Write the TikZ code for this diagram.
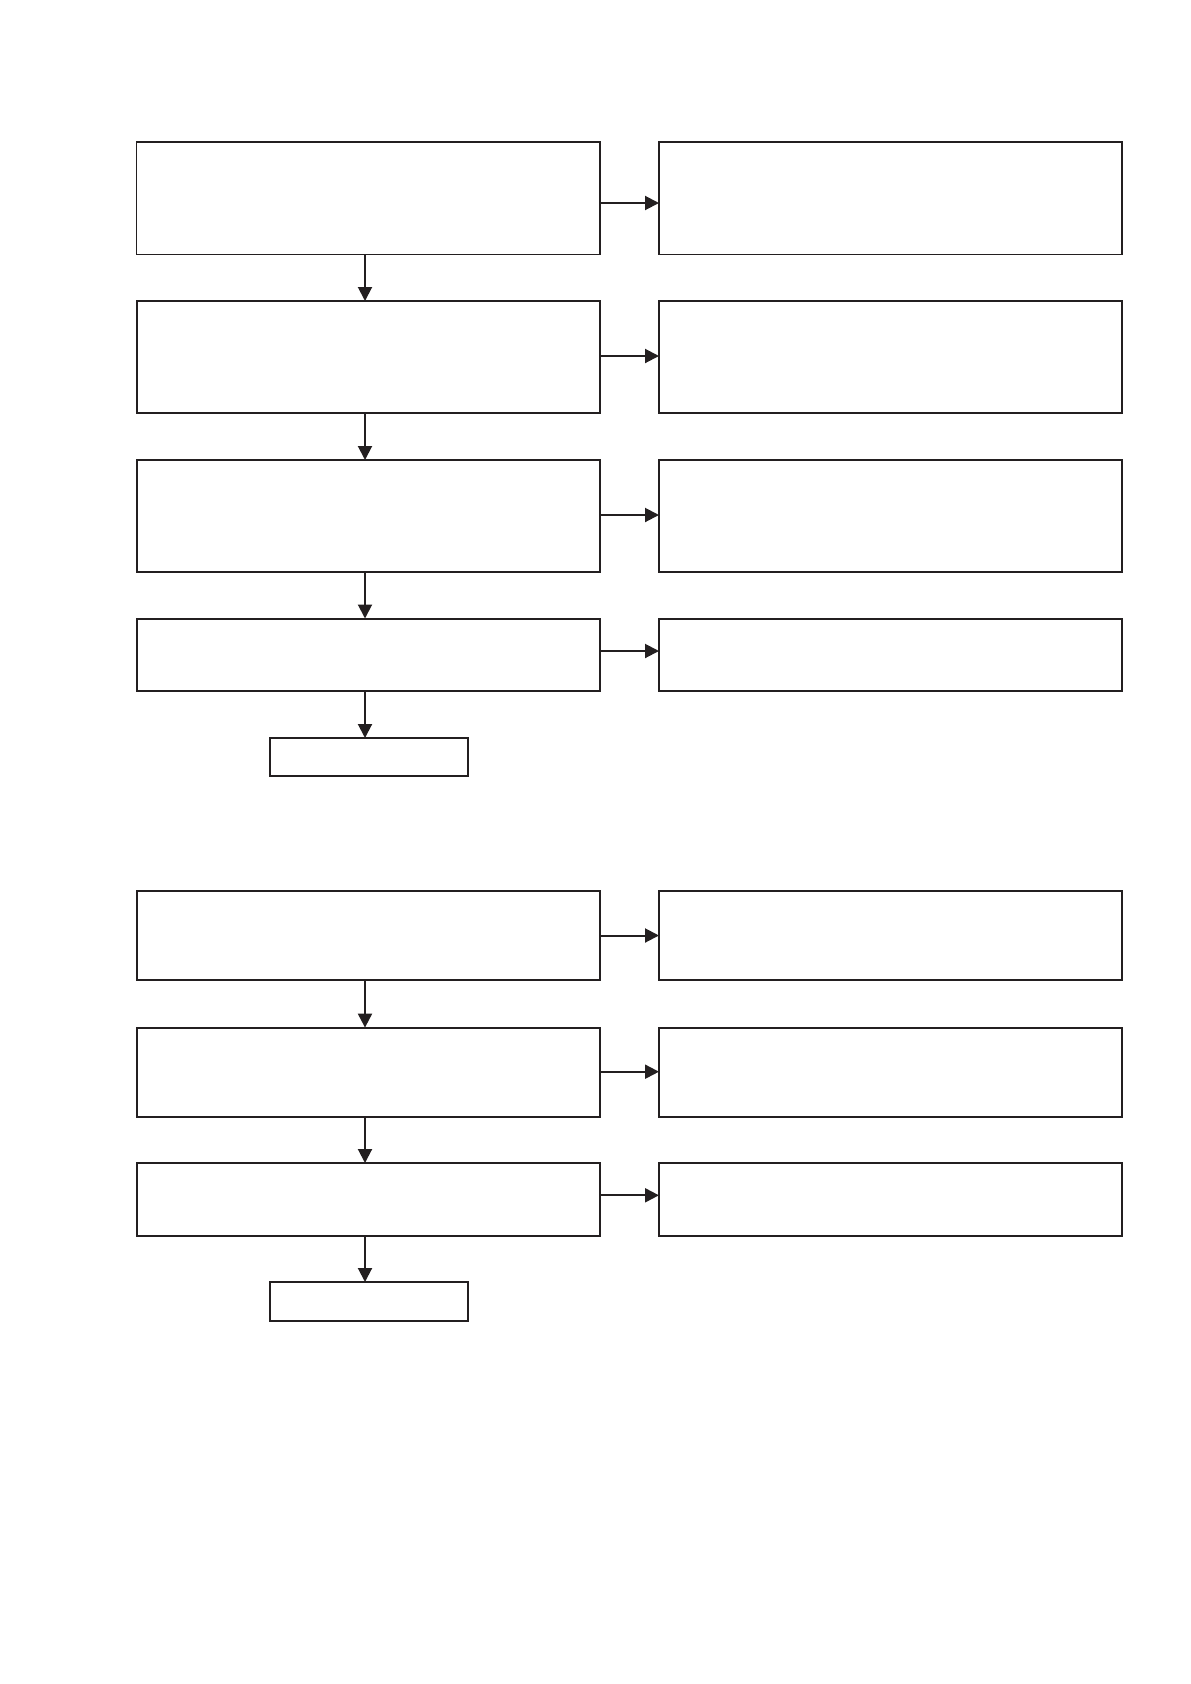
\documentclass[tikz,border=0pt]{standalone}
\usetikzlibrary{arrows.meta}
\definecolor{ink}{HTML}{231F20}
\begin{document}
\begin{tikzpicture}[x=1pt,y=-1pt,
  box/.style={draw=ink, line width=2pt, inner sep=0pt, outer sep=0pt, fill=white},
  lbox/.style={box, minimum width=463.5pt},
  rbox/.style={box, minimum width=463pt},
  sbox/.style={box, minimum width=197.7pt},
  thin/.style={line width=1.3pt},
  arr/.style={draw=ink, line width=2pt, -{Triangle[length=14pt,width=14pt]}, color=ink}]
\useasboundingbox (0,0) rectangle (1191,1684);
% group 1
\node[lbox, thin, minimum height=112.5pt] (a1) at (368.25,198.25) {};
\node[rbox, thin, minimum height=112.5pt] (b1) at (890.5,198.25) {};
\node[lbox, minimum height=112pt] (a2) at (368.25,357) {};
\node[rbox, minimum height=112pt] (b2) at (890.5,357) {};
\node[lbox, minimum height=112pt] (a3) at (368.25,516) {};
\node[rbox, minimum height=112pt] (b3) at (890.5,516) {};
\node[lbox, minimum height=72.5pt] (a4) at (368.25,654.75) {};
\node[rbox, minimum height=72.5pt] (b4) at (890.5,654.75) {};
\node[sbox, minimum height=38.2pt] (s1) at (368.65,757.1) {};
% group 2
\node[lbox, minimum height=89pt] (c1) at (368.25,935.5) {};
\node[rbox, minimum height=89pt] (d1) at (890.5,935.5) {};
\node[lbox, minimum height=89.2pt] (c2) at (368.25,1072.2) {};
\node[rbox, minimum height=89.2pt] (d2) at (890.5,1072.2) {};
\node[lbox, minimum height=73pt] (c3) at (368.25,1199.5) {};
\node[rbox, minimum height=73pt] (d3) at (890.5,1199.5) {};
\node[sbox, minimum height=39pt] (s2) at (368.65,1301.5) {};
% vertical arrows
\draw[arr] ([xshift=-3.25pt]a1.south) -- ([xshift=-3.25pt]a2.north);
\draw[arr] ([xshift=-3.25pt]a2.south) -- ([xshift=-3.25pt]a3.north);
\draw[arr] ([xshift=-3.25pt]a3.south) -- ([xshift=-3.25pt]a4.north);
\draw[arr] ([xshift=-3.25pt]a4.south) -- ([xshift=-3.65pt]s1.north);
\draw[arr] ([xshift=-3.25pt]c1.south) -- ([xshift=-3.25pt]c2.north);
\draw[arr] ([xshift=-3.25pt]c2.south) -- ([xshift=-3.25pt]c3.north);
\draw[arr] ([xshift=-3.25pt]c3.south) -- ([xshift=-3.65pt]s2.north);
% horizontal arrows
\draw[arr] ([yshift=-4.75pt]a1.east) -- ([yshift=-4.75pt]b1.west);
\draw[arr] ([yshift=1pt]a2.east) -- ([yshift=1pt]b2.west);
\draw[arr] ([yshift=1pt]a3.east) -- ([yshift=1pt]b3.west);
\draw[arr] ([yshift=3.75pt]a4.east) -- ([yshift=3.75pt]b4.west);
\draw[arr] (c1.east) -- (d1.west);
\draw[arr] ([yshift=0.5pt]c2.east) -- ([yshift=0.5pt]d2.west);
\draw[arr] ([yshift=4.2pt]c3.east) -- ([yshift=4.2pt]d3.west);
\end{tikzpicture}
\end{document}
